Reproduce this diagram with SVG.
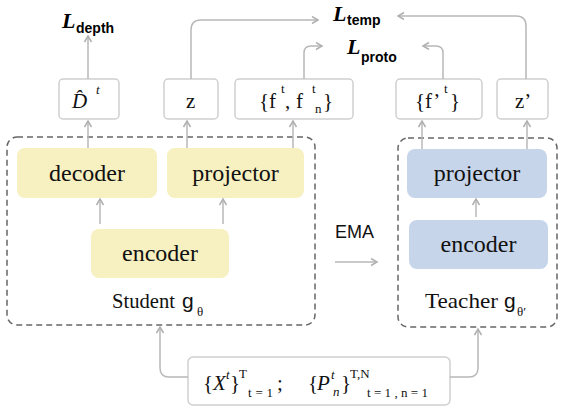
<svg xmlns="http://www.w3.org/2000/svg" width="565" height="409" viewBox="0 0 565 409">
<style>
.out{fill:#fff;stroke:#cfcfcf;stroke-width:1.5}
.dash{fill:none;stroke:#666;stroke-width:1.5;stroke-dasharray:6 4}
.ys{fill:#f7f0c1}
.bs{fill:#c7d5ea}
.lbl{font-family:"Liberation Serif",serif;font-size:24px;fill:#111;text-anchor:middle}
.cap{font-family:"Liberation Serif",serif;font-size:21px;fill:#111}
.m{font-family:"Liberation Serif",serif;font-size:21px;fill:#111}
.ms{font-family:"Liberation Serif",serif;font-size:13px;fill:#111}
.L{font-family:"Liberation Serif",serif;font-size:22px;font-weight:bold;font-style:italic;fill:#000}
.Ls{font-family:"Liberation Sans",sans-serif;font-size:14px;font-weight:bold;fill:#000}
.sans{font-family:"Liberation Sans",sans-serif;fill:#111}
.c{fill:none;stroke:#b8b8b8;stroke-width:1.5;marker-end:url(#ah)}
</style>
<defs>
<marker id="ah" markerWidth="10" markerHeight="10" refX="7" refY="4" orient="auto" markerUnits="userSpaceOnUse">
<path d="M1,0.5 L7,4 L1,7.5" fill="none" stroke="#b0b0b0" stroke-width="1.5"/>
</marker>
</defs>

<g id="loss-depth"><text class="L" x="62" y="28">L</text><text class="Ls" x="76" y="33">depth</text></g>
<g id="loss-temp"><text class="L" x="333" y="21">L</text><text class="Ls" x="347" y="25">temp</text></g>
<g id="loss-proto"><text class="L" x="347" y="54">L</text><text class="Ls" x="361" y="62">proto</text></g>

<g id="student-box"><rect class="dash" x="7" y="137" width="308" height="188" rx="10"/>
<text class="cap" x="112" y="308" textLength="63" lengthAdjust="spacingAndGlyphs">Student</text>
<text class="sans" x="182" y="308" font-size="21">g</text><text class="ms" x="197" y="316" font-size="12">θ</text></g>
<g id="teacher-box"><rect class="dash" x="398" y="138" width="159" height="189" rx="10"/>
<text class="cap" x="425" y="308" textLength="73" lengthAdjust="spacingAndGlyphs">Teacher</text>
<text class="sans" x="504" y="308" font-size="21">g</text><text class="ms" x="517" y="316" font-size="12">θ′</text></g>

<g id="out-dhat"><rect class="out" x="59" y="79" width="60" height="40" rx="4"/>
<text class="m" x="72" y="108" font-style="italic">D&#x302;</text><text class="ms" x="96" y="94" font-style="italic" font-size="12">t</text></g>
<g id="out-z"><rect class="out" x="164" y="79" width="54" height="40" rx="4"/>
<text class="m" x="186" y="108">z</text></g>
<g id="out-f"><rect class="out" x="235" y="79" width="118" height="40" rx="4"/>
<text class="m" x="259" y="108">{f</text><text class="ms" x="281" y="93" font-size="12">t</text><text class="m" x="285" y="108">,</text>
<text class="m" x="296" y="108">f</text><text class="ms" x="312" y="93" font-size="12">t</text><text class="ms" x="315" y="113">n</text><text class="m" x="323" y="108">}</text></g>
<g id="out-fp"><rect class="out" x="396" y="79" width="86" height="40" rx="4"/>
<text class="m" x="415" y="108">{f’</text><text class="ms" x="444" y="93" font-size="12">t</text><text class="m" x="450" y="108">}</text></g>
<g id="out-zp"><rect class="out" x="497" y="79" width="51" height="40" rx="4"/>
<text class="m" x="515" y="108">z’</text></g>

<g id="s-decoder"><rect class="ys" x="17" y="148" width="140" height="50" rx="8"/><text class="lbl" x="87" y="181">decoder</text></g>
<g id="s-projector"><rect class="ys" x="167" y="148" width="137" height="50" rx="8"/><text class="lbl" x="235.5" y="181">projector</text></g>
<g id="s-encoder"><rect class="ys" x="91" y="229" width="138" height="49" rx="8"/><text class="lbl" x="160" y="261">encoder</text></g>
<g id="t-projector"><rect class="bs" x="407" y="149" width="140" height="49" rx="8"/><text class="lbl" x="477" y="181">projector</text></g>
<g id="t-encoder"><rect class="bs" x="409" y="220" width="139" height="49" rx="8"/><text class="lbl" x="478.5" y="252">encoder</text></g>

<g id="ema"><text class="sans" x="335" y="238" font-size="18">EMA</text></g>

<g id="input"><rect class="out" x="188" y="357" width="262" height="48" rx="5"/>
<text class="m" x="203" y="390" font-size="20">{</text>
<text class="m" x="213" y="390" font-size="20" font-style="italic">X</text>
<text class="ms" x="226" y="379" font-size="12" font-style="italic">t</text>
<text class="m" x="230" y="390" font-size="20">}</text>
<text class="ms" x="239" y="378">T</text>
<text class="ms" x="248" y="397" textLength="25" lengthAdjust="spacing">t=1</text>
<text class="m" x="277" y="390" font-size="20">;</text>
<text class="m" x="308" y="390" font-size="20">{</text>
<text class="m" x="317" y="390" font-size="20" font-style="italic">P</text>
<text class="ms" x="331" y="379" font-size="12" font-style="italic">t</text>
<text class="ms" x="333" y="396" font-style="italic">n</text>
<text class="m" x="341" y="390" font-size="20">}</text>
<text class="ms" x="350" y="378">T,N</text>
<text class="ms" x="367" y="397" textLength="61" lengthAdjust="spacing">t=1,n=1</text></g>

<g id="connectors">
<path class="c" d="M88,79 V36"/>
<path class="c" d="M191,79 V30 Q191,20 201,20 H318"/>
<path class="c" d="M304,79 V53 Q304,46 311,46 H322"/>
<path class="c" d="M443,79 V53 Q443,46 436,46 H423"/>
<path class="c" d="M526,79 V26 Q526,16 516,16 H398"/>
<path class="c" d="M88,148 V121"/>
<path class="c" d="M187,148 V121"/>
<path class="c" d="M293,148 V121"/>
<path class="c" d="M422,149 V121"/>
<path class="c" d="M527,149 V121"/>
<path class="c" d="M100,224 V199"/>
<path class="c" d="M223,224 V199"/>
<path class="c" d="M476,217 V199"/>
<path class="c" d="M335,262 H377"/>
<path class="c" d="M188,377 H169 Q160,377 160,368 V327"/>
<path class="c" d="M450,377 H469 Q478,377 478,368 V329"/>
</g>
</svg>
